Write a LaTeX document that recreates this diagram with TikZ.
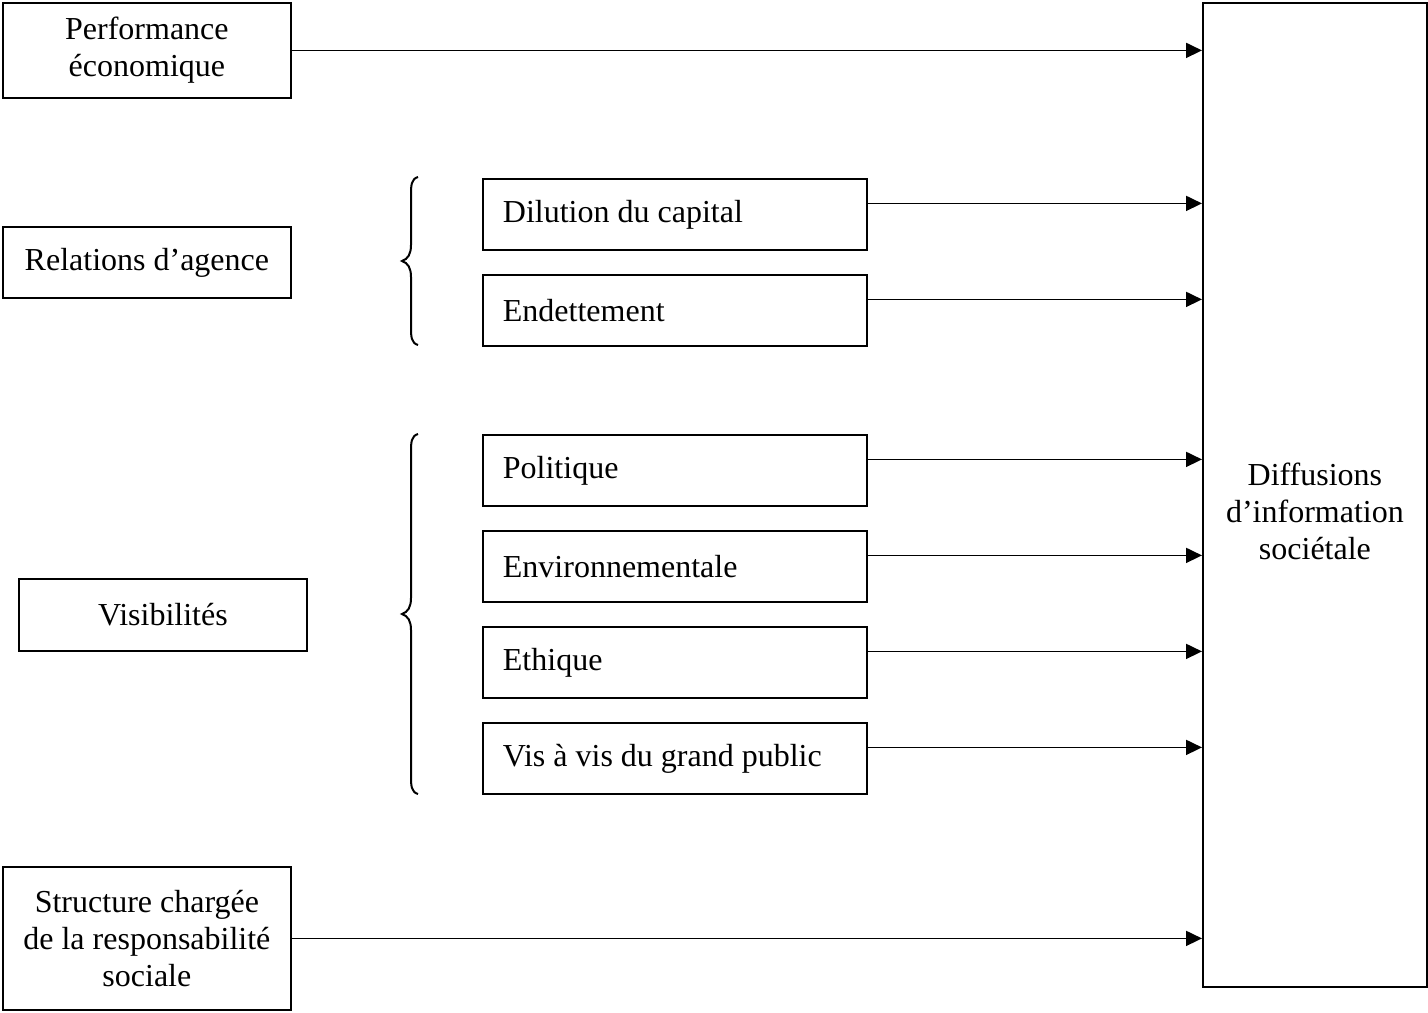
\documentclass[tikz,border=0pt]{standalone}
\usepackage{fontspec}
\setmainfont{Liberation Serif}
\usetikzlibrary{arrows.meta}
\begin{document}
\begin{tikzpicture}[x=0.5pt,y=-0.5pt,
  box/.style={draw, line width=0.9pt, anchor=north west, inner sep=0pt, align=center, font=\fontsize{16}{18.5}\selectfont},
  ibox/.style={draw, line width=0.9pt, anchor=north west, inner xsep=10pt, inner ysep=0pt, minimum width=192pt, minimum height=35.5pt, text width=172pt, align=flush left, font=\fontsize{16}{18.5}\selectfont},
  arr/.style={line width=0.9pt, -{Triangle[length=8pt,width=7.5pt]}},
  brace/.style={line width=1pt}]
\useasboundingbox (0,0) rectangle (1428,1012);
% left boxes
\node[box, minimum width=144pt, minimum height=47.5pt] (perf) at (2,2) {Performance\\économique};
\node[box, minimum width=144pt, minimum height=35.5pt] (rel) at (2,226) {Relations d’agence};
\node[box, minimum width=144pt, minimum height=36pt] (vis) at (18,578) {Visibilités};
\node[box, minimum width=144pt, minimum height=71.5pt] (struct) at (2,866) {Structure chargée\\de la responsabilité\\sociale};
% inner boxes
\node[ibox] (dil) at (482,178) {Dilution du capital};
\node[ibox] (end) at (482,274) {Endettement};
\node[ibox] (pol) at (482,434) {Politique};
\node[ibox] (env) at (482,530) {Environnementale};
\node[ibox] (eth) at (482,626) {Ethique};
\node[ibox] (vav) at (482,722) {Vis à vis du grand public};
% right box
\node[box, minimum width=112pt, minimum height=492pt] (diff) at (1202,2) {};
\node[font=\fontsize{16}{18.5}\selectfont, align=center] (difftext) at ([yshift=-8pt]diff.center) {Diffusions\\d’information\\sociétale};
% arrows
\draw[arr] (perf.east) -- (perf.east -| diff.west);
\foreach \n in {dil,end,pol,env,eth,vav}{
  \draw[arr] ([yshift=5.5pt]\n.east) -- ([yshift=5.5pt]\n.east -| diff.west);
}
\draw[arr] (struct.east) -- (struct.east -| diff.west);
% braces
\coordinate (b1t) at (418,177);
\coordinate (b1m) at (402,261);
\coordinate (b1b) at (418,345);
\draw[brace] (b1t) .. controls (411,179) and (411,186) .. (411,195) -- (411,245) .. controls (411,254) and (408,259) .. (b1m) .. controls (408,263) and (411,268) .. (411,277) -- (411,327) .. controls (411,336) and (411,343) .. (b1b);
\coordinate (b2t) at (418,434);
\coordinate (b2m) at (402,614);
\coordinate (b2b) at (418,794);
\draw[brace] (b2t) .. controls (411,436) and (411,443) .. (411,452) -- (411,598) .. controls (411,607) and (408,612) .. (b2m) .. controls (408,616) and (411,621) .. (411,630) -- (411,776) .. controls (411,785) and (411,792) .. (b2b);
\end{tikzpicture}
\end{document}
